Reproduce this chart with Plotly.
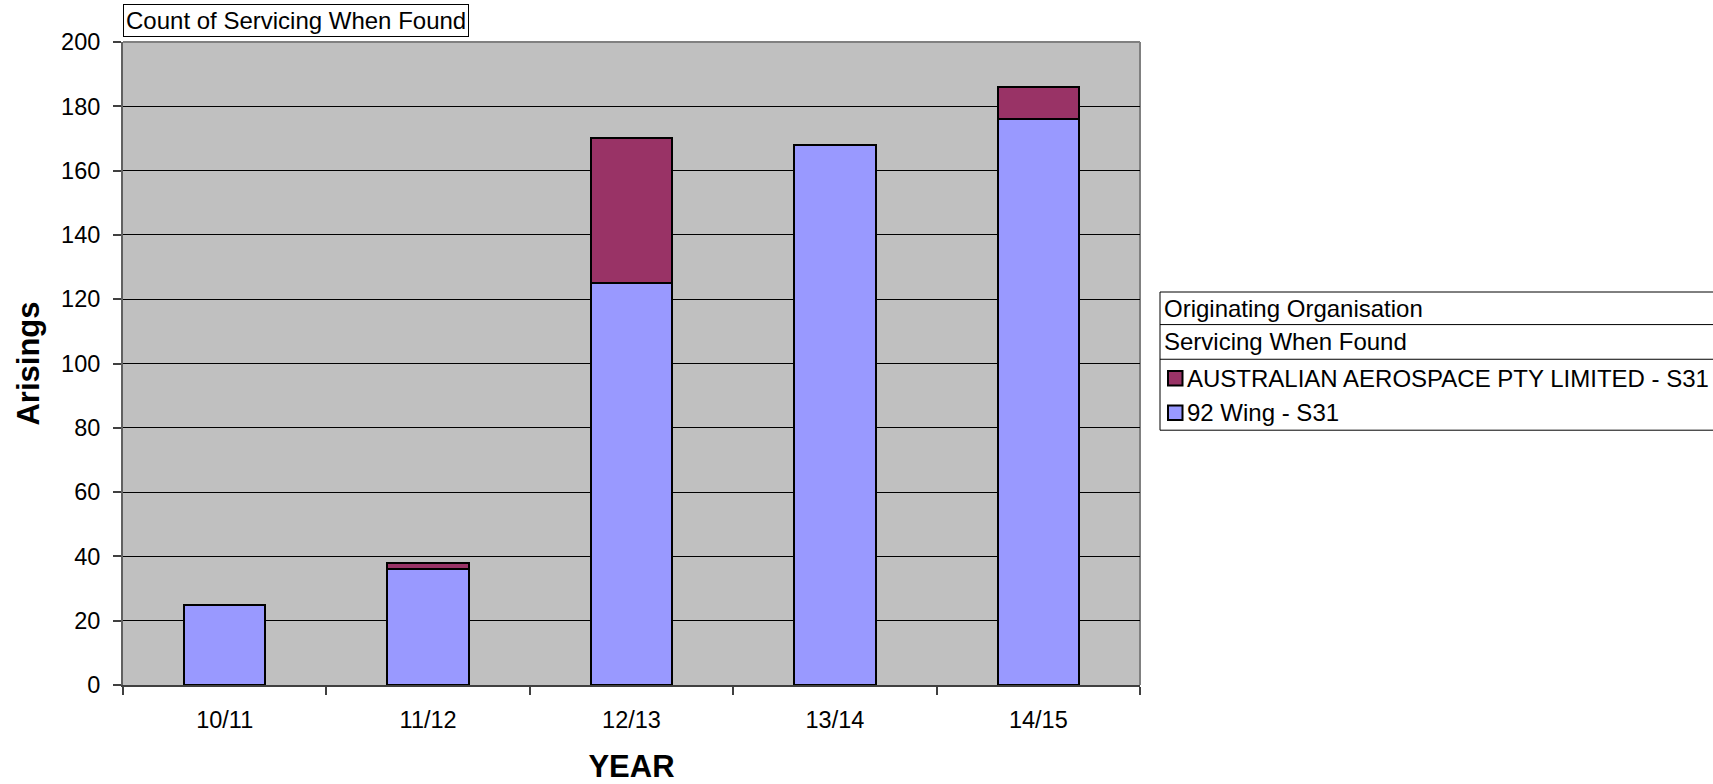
import plotly.graph_objects as go

# Fiscal years on the category axis
years = ["10/11", "11/12", "12/13", "13/14", "14/15"]

# Arisings by originating organisation (stacked)
wing_92 = [25, 36, 125, 168, 176]
aus_aerospace = [None, 2, 45, None, 10]

series_names = ["92 Wing - S31", "AUSTRALIAN AEROSPACE PTY LIMITED - S31"]
series_colors = {"92 Wing - S31": "#9999FF",
                 "AUSTRALIAN AEROSPACE PTY LIMITED - S31": "#993366"}

y_ticks = [0, 20, 40, 60, 80, 100, 120, 140, 160, 180, 200]

W, H = 1713, 784
PL, PR, PT, PB = 123, 1140, 41.5, 685  # plot area in pixels
FONT = "Liberation Sans, Arial, sans-serif"


def px(x):
    return (x - PL) / (PR - PL)


def py(y):
    return (PB - y) / (PB - PT)


fig = go.Figure()
fig.add_trace(go.Bar(x=years, y=wing_92, name=series_names[0],
                     marker=dict(color=series_colors[series_names[0]],
                                 line=dict(color="#000000", width=2))))
fig.add_trace(go.Bar(x=years, y=aus_aerospace, name=series_names[1],
                     marker=dict(color=series_colors[series_names[1]],
                                 line=dict(color="#000000", width=2))))

shapes = []
annotations = []

# grey frame on top and right of the plot area
shapes.append(dict(type="line", xref="paper", yref="paper", x0=0, x1=1, y0=1, y1=1,
                   line=dict(color="#808080", width=2), layer="below"))
shapes.append(dict(type="line", xref="paper", yref="paper", x0=1, x1=1, y0=0, y1=1,
                   line=dict(color="#808080", width=2), layer="below"))

# chart caption box
annotations.append(dict(text="Count of Servicing When Found", xref="paper", yref="paper",
                        x=px(123), y=py(36), xanchor="left", yanchor="bottom",
                        showarrow=False, font=dict(family=FONT, size=24, color="#000"),
                        bordercolor="#000", borderwidth=1, borderpad=2, bgcolor="#fff"))

# legend table
lx0, lx1 = 1160, 1730
rows = [291.7, 324.3, 359, 430]
shapes.append(dict(type="rect", xref="paper", yref="paper", x0=px(lx0), x1=px(lx1),
                   y0=py(rows[0]), y1=py(rows[3]), line=dict(color="#000", width=1),
                   fillcolor="#fff"))
for r in rows[1:3]:
    shapes.append(dict(type="line", xref="paper", yref="paper", x0=px(lx0), x1=px(lx1),
                       y0=py(r), y1=py(r), line=dict(color="#000", width=1)))

for text, yc in [("Originating Organisation", 308), ("Servicing When Found", 341.5)]:
    annotations.append(dict(text=text, xref="paper", yref="paper", x=px(1162), y=py(yc),
                            xanchor="left", yanchor="middle", showarrow=False,
                            font=dict(family=FONT, size=24, color="#000")))

for name, yc in [(series_names[1], 378), (series_names[0], 412.5)]:
    shapes.append(dict(type="rect", xref="paper", yref="paper", x0=px(1168), x1=px(1182.5),
                       y0=py(yc + 7.2), y1=py(yc - 7.2), fillcolor=series_colors[name],
                       line=dict(color="#000", width=2)))
    annotations.append(dict(text=name, xref="paper", yref="paper", x=px(1185), y=py(yc),
                            xanchor="left", yanchor="middle", showarrow=False,
                            font=dict(family=FONT, size=24, color="#000")))

fig.update_layout(
    width=W, height=H,
    margin=dict(l=PL, r=W - PR, t=PT, b=H - PB, pad=0),
    barmode="stack", bargap=0.6,
    showlegend=False,
    paper_bgcolor="#ffffff", plot_bgcolor="#C0C0C0",
    font=dict(family=FONT, size=23.5, color="#000"),
    shapes=shapes, annotations=annotations,
    xaxis=dict(type="category", tickson="boundaries", ticks="outside", ticklen=8,
               tickcolor="#404040", tickwidth=1.5, automargin=False,
               showline=True, linecolor="#404040", linewidth=2,
               showgrid=False, ticklabelstandoff=13,
               tickfont=dict(family=FONT, size=23.5),
               title=dict(text="<b>YEAR</b>", standoff=28,
                          font=dict(family=FONT, size=31))),
    yaxis=dict(range=[0, 200], tickvals=y_ticks, ticks="outside", ticklen=8,
               tickcolor="#404040", tickwidth=1.5, automargin=False,
               showline=True, linecolor="#606060", linewidth=2,
               showgrid=True, gridcolor="#000000", gridwidth=1, zeroline=False,
               ticklabelstandoff=8,
               tickfont=dict(family=FONT, size=23.5),
               title=dict(text="<b>Arisings</b>", standoff=12,
                          font=dict(family=FONT, size=31))),
)

fig.write_html("out.html")
